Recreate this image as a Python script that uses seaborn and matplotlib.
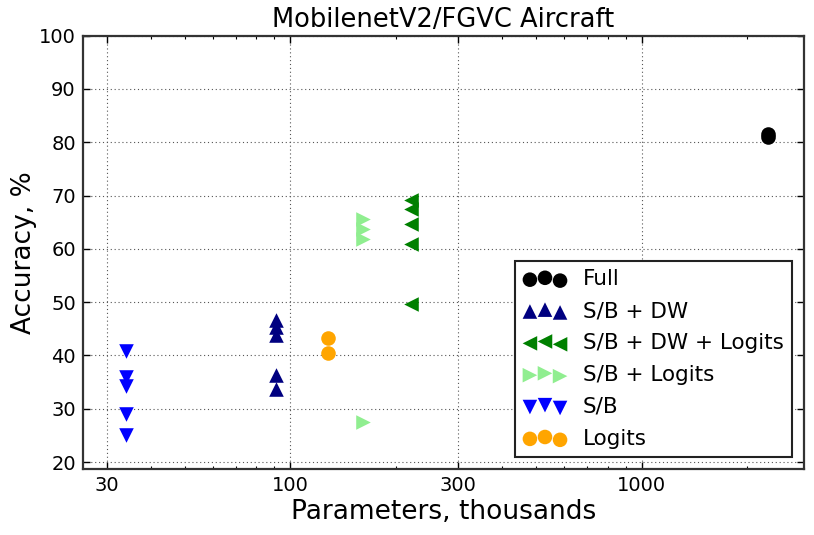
import numpy as np
import pandas as pd
import matplotlib
matplotlib.use("Agg")
import matplotlib.pyplot as plt
import seaborn as sns
from matplotlib.ticker import NullFormatter

# values
methods = ["Full", "S/B + DW", "S/B + DW + Logits", "S/B + Logits", "S/B", "Logits"]
params = {
    "Full": 2290,
    "S/B + DW": 91,
    "S/B + DW + Logits": 221,
    "S/B + Logits": 161,
    "S/B": 34,
    "Logits": 128,
}
accuracy = {
    "Full": [81.0, 81.5],
    "S/B + DW": [46.6, 45.3, 43.8, 36.3, 33.8],
    "S/B + DW + Logits": [69.1, 67.5, 64.7, 61.0, 49.7],
    "S/B + Logits": [65.6, 63.8, 61.9, 27.5],
    "S/B": [40.9, 35.9, 34.3, 29.1, 25.0],
    "Logits": [43.3, 40.4],
}
markers = ["o", "^", "<", ">", "v", "o"]
colors = ["black", "navy", "green", "lightgreen", "blue", "orange"]

rows = []
for m in methods:
    for a in accuracy[m]:
        rows.append({"method": m, "params": params[m], "acc": a})
df = pd.DataFrame(rows)

plt.rcParams["xtick.direction"] = "in"
plt.rcParams["ytick.direction"] = "in"
plt.rcParams["xtick.top"] = True
plt.rcParams["ytick.right"] = True
plt.rcParams["legend.scatterpoints"] = 3
plt.rcParams["font.family"] = ["DejaVu Sans"]

fig = plt.figure(figsize=(8.14, 5.35), dpi=100)
ax = fig.add_axes([0.1016, 0.1234, 0.8861, 0.8099])

for m, mk, c in zip(methods, markers, colors):
    sub = df[df["method"] == m]
    sns.scatterplot(data=sub, x="params", y="acc", marker=mk, color=c, s=110,
                    linewidth=0, label=m, ax=ax, legend=False)

ax.set_xscale("log")
ax.set_xlim(25.6, 2900)
ax.set_ylim(18.7, 100)
ax.set_xticks([30, 100, 300, 1000])
ax.set_xticklabels(["30", "100", "300", "1000"])
ax.xaxis.set_minor_formatter(NullFormatter())
ax.set_yticks(np.arange(20, 101, 10))
ax.tick_params(which="major", length=5, width=1, labelsize=14, pad=5)
ax.tick_params(which="minor", length=2.5, width=0.8)
for sp in ax.spines.values():
    sp.set_linewidth(1.6)
    sp.set_color("#333333")

ax.grid(True, which="major", color="#555555", linestyle=(0, (1, 2.5)), linewidth=0.8)
ax.set_axisbelow(True)

ax.set_title("MobilenetV2/FGVC Aircraft", fontsize=18.5, pad=6)
ax.set_xlabel("Parameters, thousands", fontsize=19, labelpad=3)
ax.set_ylabel("Accuracy, %", fontsize=19, labelpad=1)

leg = ax.legend(loc="lower right", fontsize=15.5, fancybox=False, framealpha=1,
                edgecolor="#222222", scatterpoints=3, labelspacing=0.55,
                handletextpad=0.75, borderaxespad=0.55)
leg.get_frame().set_linewidth(1.5)

fig.savefig("out.png", dpi=100)
